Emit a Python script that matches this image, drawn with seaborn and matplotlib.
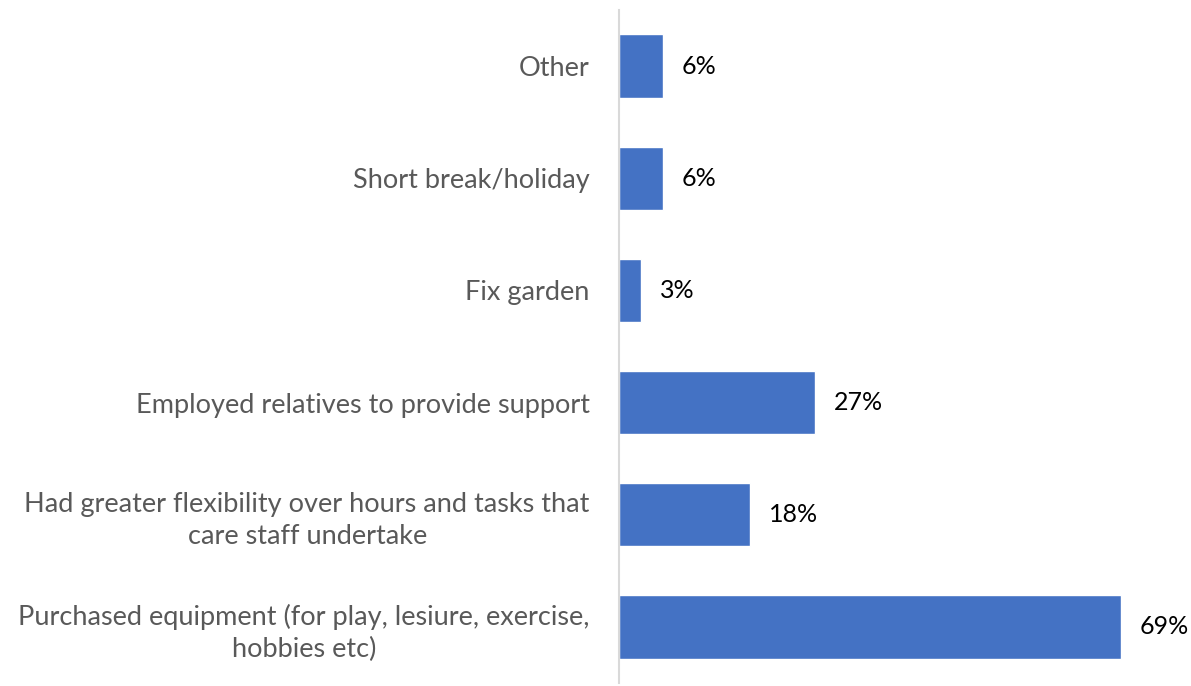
import matplotlib
matplotlib.use("Agg")
import matplotlib.pyplot as plt
import seaborn as sns
import pandas as pd

categories = [
    "Other",
    "Short break/holiday",
    "Fix garden",
    "Employed relatives to provide support",
    "Had greater flexibility over hours and tasks that\ncare staff undertake",
    "Purchased equipment (for play, lesiure, exercise,\nhobbies etc)",
]
values = [6, 6, 3, 27, 18, 69]
value_labels = ["6%", "6%", "3%", "27%", "18%", "69%"]

sns.set_theme(style="white")
plt.rcParams["font.family"] = ["Lato", "DejaVu Sans"]

df = pd.DataFrame({"category": categories, "value": values})

W, H, DPI = 1191, 686, 100
fig = plt.figure(figsize=(W / DPI, H / DPI), dpi=DPI)
left_px, right_px, top_px, bottom_px = 619, 1165, 10, 683
ax = fig.add_axes([left_px / W, 1 - bottom_px / H,
                   (right_px - left_px) / W, (bottom_px - top_px) / H])

sns.barplot(data=df, x="value", y="category", orient="h", color="#4472C4",
            saturation=1, width=0.565, ax=ax)

xmax = (right_px - left_px) / 7.27
ax.set_xlim(0, xmax)
ax.set_ylim(5.5, -0.5)

for i, (v, lab) in enumerate(zip(values, value_labels)):
    ax.annotate(lab, xy=(v, i), xytext=(13.5, 0), textcoords="offset points",
                va="center", ha="left", fontsize=18, color="#000000")

ax.set_xlabel("")
ax.set_ylabel("")
ax.set_xticks([])
ax.tick_params(axis="y", length=0, pad=21, labelsize=19.5, labelcolor="#595959")
for lbl in ax.get_yticklabels():
    lbl.set_horizontalalignment("right")
    lbl.set_multialignment("center")
    lbl.set_linespacing(1.35)

for s in ["top", "right", "bottom"]:
    ax.spines[s].set_visible(False)
ax.spines["left"].set_color("#D9D9D9")
ax.spines["left"].set_linewidth(1.5)

fig.savefig("out.png", dpi=DPI)
